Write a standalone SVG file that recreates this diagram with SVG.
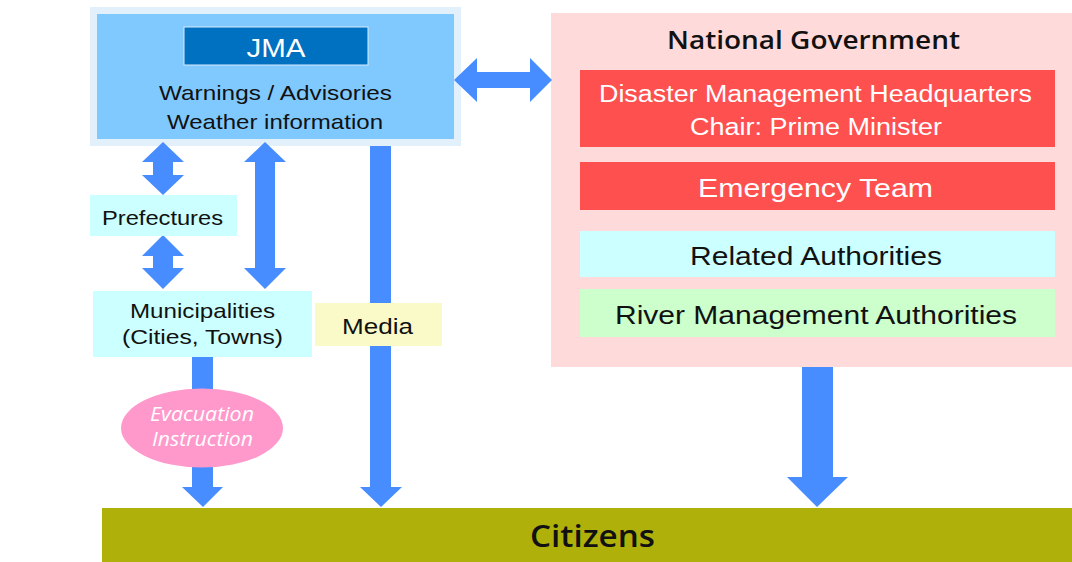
<svg xmlns="http://www.w3.org/2000/svg" width="1072" height="562" viewBox="0 0 1072 562">
  <style>
    .sans { font-family: "Liberation Sans", Arial, sans-serif; }
    .title { font-family: "Open Sans", "Noto Sans", sans-serif; font-weight: 600; }
    .ital { font-family: "Open Sans", "Noto Sans", sans-serif; font-style: italic; }
    .dark { fill: #111; }
    .light { fill: #fff; }
    .arrow { fill: #478dff; }
    text { text-anchor: middle; }
  </style>
  <rect width="1072" height="562" fill="#fff"/>

  <!-- JMA -->
  <g id="jma">
    <rect x="90" y="7" width="371" height="139" fill="#e2f0fb"/>
    <rect x="97" y="14" width="357" height="125" fill="#80c9ff"/>
    <rect x="184" y="27" width="184" height="38" fill="#0070c0" stroke="#d8ecff" stroke-width="1"/>
    <text class="sans light" x="276" y="57" font-size="25" textLength="59" lengthAdjust="spacingAndGlyphs">JMA</text>
    <text class="sans dark" x="275.5" y="100" font-size="21" textLength="233" lengthAdjust="spacingAndGlyphs">Warnings / Advisories</text>
    <text class="sans dark" x="275" y="129" font-size="21" textLength="216" lengthAdjust="spacingAndGlyphs">Weather information</text>
  </g>

  <!-- National Government -->
  <g id="national-government">
    <rect x="551" y="13" width="521" height="354" fill="#ffdada"/>
    <text class="title dark" x="813.5" y="49" font-size="26" textLength="293" lengthAdjust="spacingAndGlyphs">National Government</text>
  </g>
  <g id="dmh">
    <rect x="580" y="70" width="475" height="77" fill="#ff5050"/>
    <text class="sans light" x="815.5" y="102" font-size="23" textLength="433" lengthAdjust="spacingAndGlyphs">Disaster Management Headquarters</text>
    <text class="sans light" x="816" y="135" font-size="23" textLength="252" lengthAdjust="spacingAndGlyphs">Chair: Prime Minister</text>
  </g>
  <g id="emergency-team">
    <rect x="580" y="162" width="475" height="48" fill="#ff5050"/>
    <text class="sans light" x="815.5" y="197" font-size="25" textLength="235" lengthAdjust="spacingAndGlyphs">Emergency Team</text>
  </g>
  <g id="related-authorities">
    <rect x="580" y="231" width="475" height="46" fill="#ccffff"/>
    <text class="sans dark" x="816" y="265" font-size="25" textLength="252" lengthAdjust="spacingAndGlyphs">Related Authorities</text>
  </g>
  <g id="river-management">
    <rect x="580" y="289" width="475" height="48" fill="#ccffcc"/>
    <text class="sans dark" x="816" y="324" font-size="25" textLength="402" lengthAdjust="spacingAndGlyphs">River Management Authorities</text>
  </g>

  <!-- Connectors (block arrows) -->
  <g id="connectors" class="arrow">
    <!-- JMA <-> National Government -->
    <polygon points="454,80 477,58 477,72 530,72 530,58 552,80 530,102 530,88 477,88 477,102"/>
    <!-- JMA <-> Prefectures -->
    <polygon points="163,142 184,162 173,162 173,175 184,175 163,195 142,175 153,175 153,162 142,162"/>
    <!-- Prefectures <-> Municipalities -->
    <polygon points="163,235 184,256 173,256 173,268 184,268 163,289 142,268 153,268 153,256 142,256"/>
    <!-- JMA <-> Municipalities -->
    <polygon points="265,142 286,162 275,162 275,268 286,268 265,289 244,268 255,268 255,162 244,162"/>
    <!-- JMA -> Media -> Citizens -->
    <polygon points="370,146 391,146 391,487 402,487 381,507 360,487 370,487"/>
    <!-- Municipalities -> Citizens -->
    <polygon points="192,357 213,357 213,487 223,487 203,507 182,487 192,487"/>
    <!-- National Government -> Citizens -->
    <polygon points="802,367 833,367 833,477 848,477 817,507 787,477 802,477"/>
  </g>

  <!-- Prefectures -->
  <g id="prefectures">
    <rect x="90" y="195" width="147" height="41" fill="#ccffff"/>
    <text class="sans dark" x="162.5" y="225" font-size="21" textLength="121" lengthAdjust="spacingAndGlyphs">Prefectures</text>
  </g>

  <!-- Municipalities -->
  <g id="municipalities">
    <rect x="93" y="291" width="219" height="66" fill="#ccffff"/>
    <text class="sans dark" x="202.5" y="318" font-size="21" textLength="145" lengthAdjust="spacingAndGlyphs">Municipalities</text>
    <text class="sans dark" x="202.5" y="344" font-size="21" textLength="161" lengthAdjust="spacingAndGlyphs">(Cities, Towns)</text>
  </g>

  <!-- Media -->
  <g id="media">
    <rect x="315" y="303" width="127" height="43" fill="#fafac8"/>
    <text class="sans dark" x="377.5" y="334" font-size="22" textLength="71" lengthAdjust="spacingAndGlyphs">Media</text>
  </g>

  <!-- Evacuation instruction -->
  <g id="evacuation-instruction">
    <ellipse cx="202" cy="428" rx="81" ry="39.5" fill="#ff99cc"/>
    <text class="ital light" x="202" y="421" font-size="20" textLength="104" lengthAdjust="spacingAndGlyphs">Evacuation</text>
    <text class="ital light" x="202.5" y="446" font-size="20" textLength="101" lengthAdjust="spacingAndGlyphs">Instruction</text>
  </g>

  <!-- Citizens -->
  <g id="citizens">
    <rect x="102" y="508" width="970" height="54" fill="#b0b00a"/>
    <text class="title dark" x="592.5" y="547" font-size="30" textLength="125" lengthAdjust="spacingAndGlyphs">Citizens</text>
  </g>
</svg>
